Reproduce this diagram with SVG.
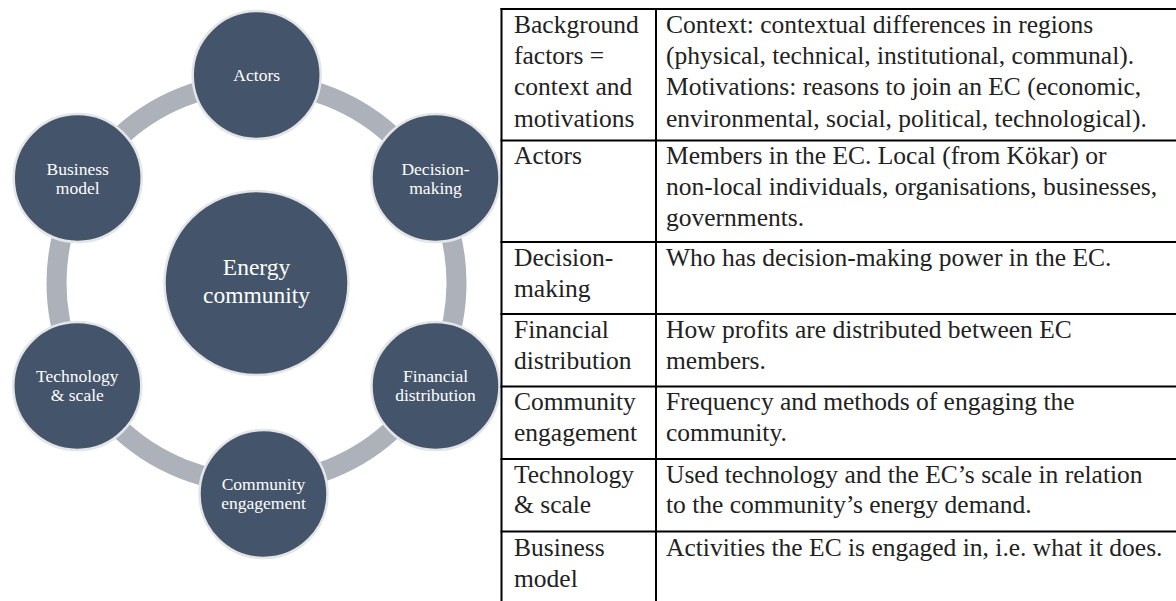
<svg xmlns="http://www.w3.org/2000/svg" width="1176" height="601" viewBox="0 0 1176 601">
<style>
.node{fill:#44546a;stroke:#e4e5e7;stroke-width:2.5}
.nt{font-size:17.5px;fill:#ffffff;text-anchor:middle}
.ct{font-size:23.5px;fill:#ffffff;text-anchor:middle}
.ring{fill:none;stroke:#adb1b9;stroke-width:20}
.tl{stroke:#000000;stroke-width:2;fill:none}
.tt{font-size:25.5px;fill:#222222}
</style>
<rect x="0" y="0" width="1176" height="601" fill="#ffffff"/>
<g id="connectors">
<circle class="ring" cx="256.5" cy="283" r="200"/>
</g>
<g font-family="Liberation Serif, DejaVu Serif, serif">
<g id="node-center">
<circle class="node" cx="256.5" cy="283" r="92"/>
<text class="ct" x="256.5" y="275">Energy</text>
<text class="ct" x="256.5" y="302.5">community</text>
</g>
<g id="node-actors">
<circle class="node" cx="256.7" cy="75" r="64"/>
<text class="nt" x="256.7" y="81">Actors</text>
</g>
<g id="node-decision">
<circle class="node" cx="435.5" cy="178" r="64"/>
<text class="nt" x="435.5" y="175">Decision-</text>
<text class="nt" x="435.5" y="194">making</text>
</g>
<g id="node-financial">
<circle class="node" cx="435.5" cy="386" r="64"/>
<text class="nt" x="435.5" y="382">Financial</text>
<text class="nt" x="435.5" y="401">distribution</text>
</g>
<g id="node-community">
<circle class="node" cx="263.5" cy="494" r="64"/>
<text class="nt" x="263.5" y="490">Community</text>
<text class="nt" x="263.5" y="509">engagement</text>
</g>
<g id="node-technology">
<circle class="node" cx="77.3" cy="386" r="64"/>
<text class="nt" x="77.3" y="382">Technology</text>
<text class="nt" x="77.3" y="401">&amp; scale</text>
</g>
<g id="node-business">
<circle class="node" cx="77.7" cy="178" r="64"/>
<text class="nt" x="77.7" y="175">Business</text>
<text class="nt" x="77.7" y="194">model</text>
</g>
<g id="table">
<line class="tl" x1="500.5" y1="9" x2="1176" y2="9"/>
<line class="tl" x1="500.5" y1="140.5" x2="1176" y2="140.5"/>
<line class="tl" x1="500.5" y1="242" x2="1176" y2="242"/>
<line class="tl" x1="500.5" y1="314" x2="1176" y2="314"/>
<line class="tl" x1="500.5" y1="386.5" x2="1176" y2="386.5"/>
<line class="tl" x1="500.5" y1="459" x2="1176" y2="459"/>
<line class="tl" x1="500.5" y1="531.5" x2="1176" y2="531.5"/>
<line class="tl" x1="501.5" y1="8" x2="501.5" y2="601"/>
<line class="tl" x1="656" y1="8" x2="656" y2="601"/>
<g class="tt">
<text x="514" y="32.5">Background</text>
<text x="514" y="63.5">factors =</text>
<text x="514" y="95">context and</text>
<text x="514" y="126.5">motivations</text>
<text x="666" y="32.5">Context: contextual differences in regions</text>
<text x="666" y="63.5">(physical, technical, institutional, communal).</text>
<text x="666" y="95">Motivations: reasons to join an EC (economic,</text>
<text x="666" y="126.5">environmental, social, political, technological).</text>
<text x="514" y="163.5">Actors</text>
<text x="666" y="163.5">Members in the EC. Local (from Kökar) or</text>
<text x="666" y="194.5">non-local individuals, organisations, businesses,</text>
<text x="666" y="225.5">governments.</text>
<text x="514" y="265.5">Decision-</text>
<text x="514" y="296.5">making</text>
<text x="666" y="265.5">Who has decision-making power in the EC.</text>
<text x="514" y="338">Financial</text>
<text x="514" y="369">distribution</text>
<text x="666" y="338">How profits are distributed between EC</text>
<text x="666" y="369">members.</text>
<text x="514" y="410">Community</text>
<text x="514" y="441">engagement</text>
<text x="666" y="410">Frequency and methods of engaging the</text>
<text x="666" y="441">community.</text>
<text x="514" y="483">Technology</text>
<text x="514" y="513">&amp; scale</text>
<text x="666" y="483">Used technology and the EC’s scale in relation</text>
<text x="666" y="513">to the community’s energy demand.</text>
<text x="514" y="555.5">Business</text>
<text x="514" y="586.5">model</text>
<text x="666" y="555.5">Activities the EC is engaged in, i.e. what it does.</text>
</g>
</g>
</g>
</svg>
